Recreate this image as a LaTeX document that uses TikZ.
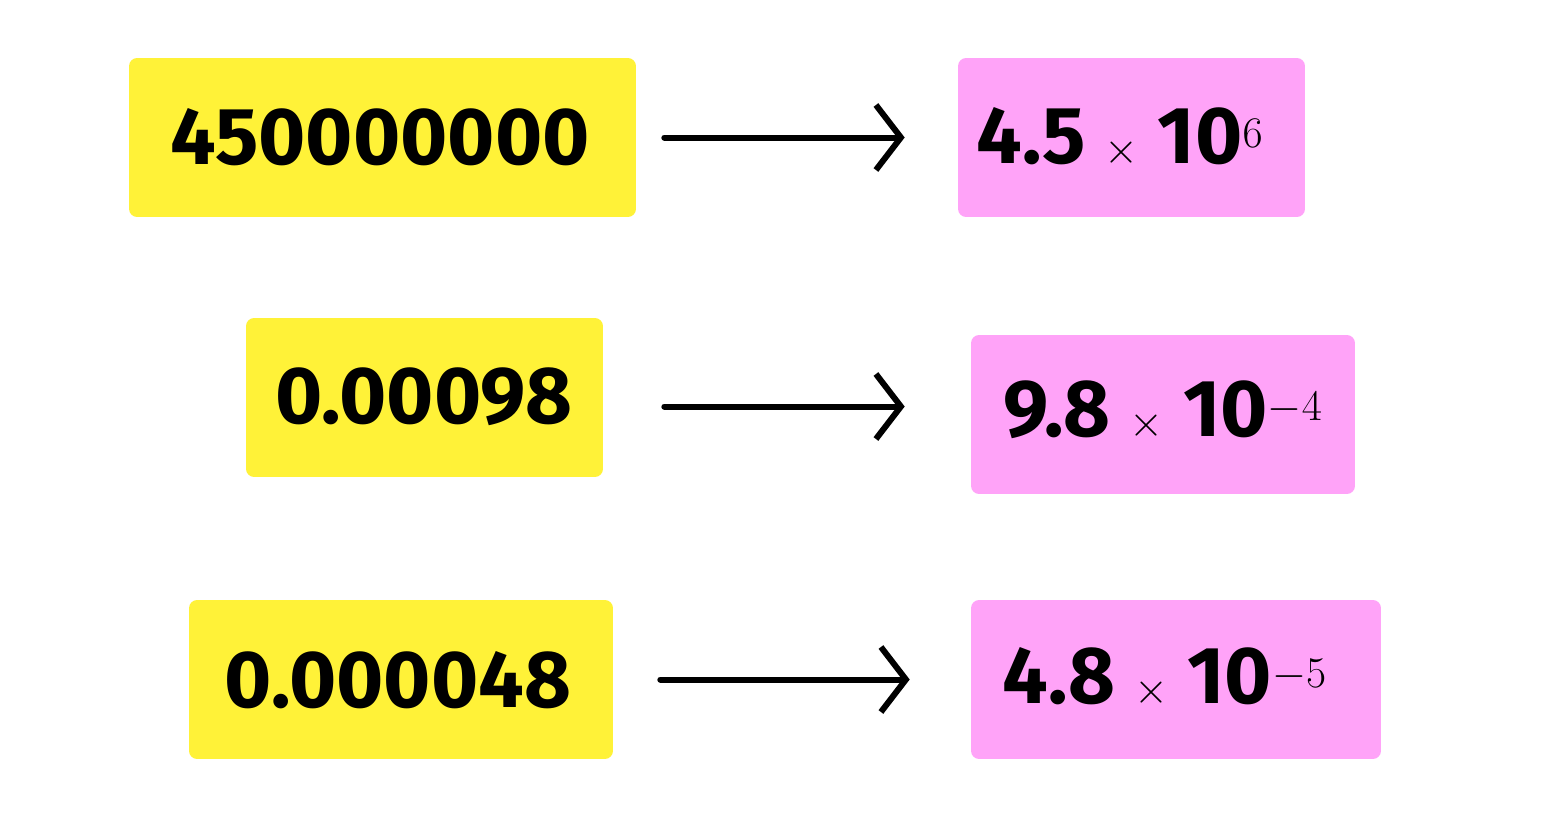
\documentclass[tikz,border=0pt]{standalone}
\usepackage{fontspec}
\setmainfont{Fira Sans}
\usetikzlibrary{arrows.meta}
\definecolor{yel}{HTML}{FFF238}
\definecolor{pnk}{HTML}{FFA3F8}
\tikzset{
  box/.style={rounded corners=0.16cm, inner sep=0pt, minimum height=3.18cm},
  ybox/.style={box, fill=yel},
  pbox/.style={box, fill=pnk},
  num/.style={font=\fontsize{46}{50}\selectfont\bfseries, inner sep=0pt},
  conv/.style={line width=0.12cm, line cap=round, -{Straight Barb[length=0.5cm,width=1.3cm,line width=0.12cm]}}
}
\begin{document}
\begin{tikzpicture}[x=0.02cm,y=-0.02cm]
  \useasboundingbox (0,0) rectangle (1545,818);
  % left boxes
  \node[ybox, minimum width=10.14cm] (y1) at (382.5,137.5) {};
  \node[ybox, minimum width=7.14cm] (y2) at (424.5,397.5) {};
  \node[ybox, minimum width=8.48cm] (y3) at (401,679.5) {};
  % right boxes
  \node[pbox, minimum width=6.94cm] (p1) at (1131.5,137.5) {};
  \node[pbox, minimum width=7.68cm] (p2) at (1163,414.5) {};
  \node[pbox, minimum width=8.2cm] (p3) at (1176,679.5) {};
  % texts
  \node[num] (t1) at (380,137) {450000000};
  \node[num] (t2) at (424,397) {0.00098};
  \node[num] (t3) at (398,680) {0.000048};
  \node[num, anchor=west] (s1) at (976,137) {4.5 $\times$ 10$^{6}$};
  \node[num] (s2) at (1163,410) {9.8 $\times$ 10$^{-4}$};
  \node[num] (s3) at (1165,677) {4.8 $\times$ 10$^{-5}$};
  % arrows
  \draw[conv, shorten <=0.56cm, shorten >=1.06cm] (y1.east) -- (p1.west);
  \draw[conv, shorten <=1.22cm, shorten >=1.32cm] (y2.east |- y1.east) ++(0,269) coordinate (a2) (a2) -- (a2 -| p2.west);
  \draw[conv, shorten <=0.94cm, shorten >=1.22cm] (y3.east) -- (p3.west);
\end{tikzpicture}
\end{document}
